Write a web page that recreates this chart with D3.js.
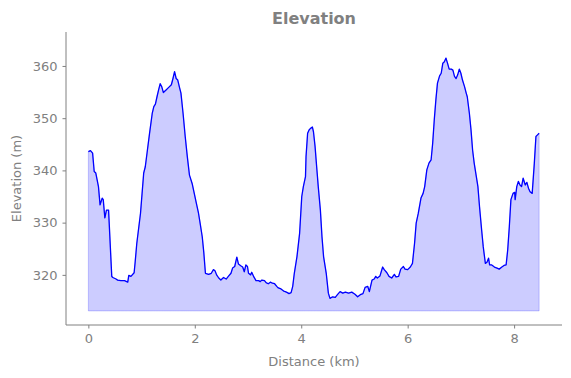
<!DOCTYPE html>
<html>
<head>
<meta charset="utf-8">
<script src="https://cdn.jsdelivr.net/npm/d3@7"></script>
<style>
  body { margin: 0; background: #fff; }
  svg text { font-family: "DejaVu Sans", sans-serif; }
</style>
</head>
<body>
<div id="chart"></div>
<script>
const distance = [
  0.00, 0.04, 0.08, 0.11, 0.14, 0.19, 0.22, 0.26, 0.28, 0.31, 0.34, 0.38, 0.44, 0.46, 0.52, 0.55,
  0.61, 0.68, 0.74, 0.76, 0.80, 0.86, 0.88, 0.91, 0.98, 1.04, 1.07, 1.11, 1.15, 1.20, 1.23, 1.26,
  1.29, 1.32, 1.35, 1.38, 1.41, 1.46, 1.51, 1.56, 1.59, 1.62, 1.65, 1.68, 1.71, 1.74, 1.78, 1.82,
  1.86, 1.90, 1.95, 1.99, 2.03, 2.07, 2.10, 2.14, 2.17, 2.20, 2.26, 2.31, 2.35, 2.38, 2.41, 2.45,
  2.49, 2.54, 2.59, 2.63, 2.68, 2.71, 2.75, 2.79, 2.82, 2.87, 2.90, 2.93, 2.96, 2.99, 3.01, 3.05,
  3.07, 3.11, 3.15, 3.20, 3.23, 3.26, 3.31, 3.34, 3.38, 3.42, 3.46, 3.50, 3.54, 3.57, 3.62, 3.67,
  3.70, 3.74, 3.77, 3.81, 3.84, 3.87, 3.92, 3.97, 4.01, 4.04, 4.08, 4.09, 4.12, 4.15, 4.18, 4.21,
  4.23, 4.26, 4.29, 4.32, 4.36, 4.39, 4.42, 4.47, 4.51, 4.54, 4.59, 4.64, 4.68, 4.73, 4.78, 4.83,
  4.89, 4.95, 5.01, 5.06, 5.11, 5.16, 5.20, 5.25, 5.28, 5.33, 5.37, 5.40, 5.43, 5.48, 5.53, 5.56,
  5.61, 5.65, 5.70, 5.75, 5.78, 5.83, 5.87, 5.92, 5.95, 6.00, 6.05, 6.09, 6.13, 6.16, 6.20, 6.25,
  6.29, 6.32, 6.36, 6.40, 6.44, 6.47, 6.50, 6.53, 6.56, 6.60, 6.63, 6.66, 6.69, 6.72, 6.75, 6.78,
  6.82, 6.85, 6.88, 6.91, 6.94, 6.97, 7.00, 7.03, 7.07, 7.10, 7.12, 7.16, 7.19, 7.22, 7.25, 7.30,
  7.32, 7.35, 7.39, 7.42, 7.46, 7.49, 7.52, 7.54, 7.58, 7.63, 7.68, 7.72, 7.77, 7.81, 7.85, 7.88,
  7.91, 7.94, 7.98, 8.01, 8.02, 8.05, 8.08, 8.11, 8.14, 8.17, 8.21, 8.24, 8.27, 8.30, 8.34, 8.38,
  8.41, 8.44, 8.47
];
const elevation = [
  343.6, 343.8, 343.3, 339.8, 339.5, 336.9, 333.4, 334.7, 334.4, 330.9, 332.4, 332.4, 319.7, 319.5, 319.2, 319.0,
  318.9, 318.9, 318.6, 319.9, 319.7, 320.4, 322.5, 326.0, 331.8, 339.5, 340.7, 343.9, 347.1, 350.9, 352.2, 352.7,
  354.1, 355.4, 356.6, 356.0, 354.9, 355.4, 355.9, 356.4, 357.6, 358.9, 357.6, 357.3, 356.0, 354.8, 350.9, 346.5,
  342.6, 339.1, 337.5, 335.6, 333.7, 331.8, 329.9, 327.3, 324.2, 320.3, 320.1, 320.3, 321.0, 320.8, 320.0, 319.4,
  319.0, 319.5, 319.2, 319.7, 320.3, 321.3, 321.6, 323.4, 322.1, 321.7, 321.5, 320.6, 321.9, 321.6, 320.3, 320.0,
  320.5, 319.6, 318.9, 318.9, 318.7, 319.0, 318.9, 318.5, 318.3, 318.6, 318.4, 318.3, 317.8, 317.5, 317.3, 316.9,
  316.8, 316.6, 316.4, 316.6, 317.8, 320.3, 323.5, 328.0, 335.0, 336.9, 338.8, 342.6, 347.1, 347.8, 348.1, 348.3,
  347.4, 344.6, 340.7, 336.9, 332.4, 327.3, 323.5, 320.3, 316.5, 315.5, 315.8, 315.7, 316.2, 316.8, 316.5, 316.7,
  316.5, 316.7, 316.3, 315.8, 316.2, 316.4, 317.6, 317.8, 316.8, 319.0, 319.2, 319.7, 319.4, 319.8, 321.5, 321.0,
  320.4, 319.7, 319.4, 320.1, 319.6, 319.7, 321.1, 321.6, 321.1, 321.0, 321.5, 322.2, 326.1, 329.9, 331.8, 334.7,
  335.6, 336.9, 340.1, 341.4, 342.0, 345.2, 349.7, 353.5, 356.7, 358.1, 358.6, 360.5, 360.8, 361.5, 360.5, 359.4,
  359.4, 359.2, 358.0, 357.6, 358.3, 359.4, 358.6, 357.3, 356.0, 354.8, 354.1, 350.9, 347.8, 343.9, 341.4, 338.2,
  336.9, 333.1, 328.6, 325.4, 322.2, 322.4, 323.2, 321.9, 321.9, 321.5, 321.3, 321.1, 321.5, 321.8, 321.9, 324.8,
  329.2, 334.4, 335.6, 335.8, 334.4, 336.9, 337.9, 337.2, 336.9, 338.5, 337.2, 337.7, 336.6, 335.9, 335.6, 341.4,
  346.5, 346.8, 347.1
];
const xTicks = [0, 2, 4, 6, 8];
const yTicks = [320, 330, 340, 350, 360];
const baseElevation = 313.1;

const datos = distance.map((d, i) => ({dist: d, elev: elevation[i]}));

const width = 571, height = 378;
const margin = {top: 32, right: 9, bottom: 53, left: 66};

const svg = d3.select("#chart")
    .append("svg")
    .attr("width", width)
    .attr("height", height);

const x = d3.scaleLinear()
    .domain([-0.42, 8.9])
    .range([margin.left, width - margin.right]);

const y = d3.scaleLinear()
    .domain([310.4, 366.5])
    .range([height - margin.bottom, margin.top]);

// Area
const area = d3.area()
    .x(d => x(d.dist))
    .y0(y(baseElevation))
    .y1(d => y(d.elev));

svg.append("path")
    .datum(datos)
    .attr("d", area)
    .attr("fill", "rgba(0,0,255,0.2)")
    .attr("stroke", "rgba(0,0,255,0.2)")
    .attr("stroke-width", 1);

const line = d3.line()
    .x(d => x(d.dist))
    .y(d => y(d.elev));

svg.append("path")
    .datum(datos)
    .attr("d", line)
    .attr("fill", "none")
    .attr("stroke", "#0000ff")
    .attr("stroke-width", 1.3)
    .attr("stroke-linejoin", "round");

// Ejes
const gx = svg.append("g")
    .attr("transform", `translate(0,${height - margin.bottom})`)
    .call(d3.axisBottom(x).tickValues(xTicks).tickSize(3.5).tickPadding(5).tickFormat(d3.format("d")));

const gy = svg.append("g")
    .attr("transform", `translate(${margin.left},0)`)
    .call(d3.axisLeft(y).tickValues(yTicks).tickSize(3.5).tickPadding(5).tickFormat(d3.format("d")));

[gx, gy].forEach(g => {
    g.select(".domain").attr("stroke", "#808080").attr("stroke-width", 1);
    g.selectAll(".tick line").attr("stroke", "#808080");
    g.selectAll(".tick text")
        .attr("fill", "#808080")
        .style("font-size", "13px")
        .style("font-family", "DejaVu Sans");
});
// quitar los extremos del dominio
gx.select(".domain").attr("d", `M${margin.left},0H${width - margin.right}`);
gy.select(".domain").attr("d", `M0,${margin.top}V${height - margin.bottom}`);

// Etiquetas
svg.append("text")
    .attr("x", (margin.left + width - margin.right) / 2)
    .attr("y", 24)
    .attr("text-anchor", "middle")
    .attr("fill", "#808080")
    .style("font-size", "16px")
    .style("font-weight", "bold")
    .text("Elevation");

svg.append("text")
    .attr("x", (margin.left + width - margin.right) / 2)
    .attr("y", 366)
    .attr("text-anchor", "middle")
    .attr("fill", "#808080")
    .style("font-size", "13px")
    .text("Distance (km)");

svg.append("text")
    .attr("transform", `translate(21,${(margin.top + height - margin.bottom) / 2}) rotate(-90)`)
    .attr("text-anchor", "middle")
    .attr("fill", "#808080")
    .style("font-size", "13px")
    .text("Elevation (m)");
</script>
</body>
</html>
